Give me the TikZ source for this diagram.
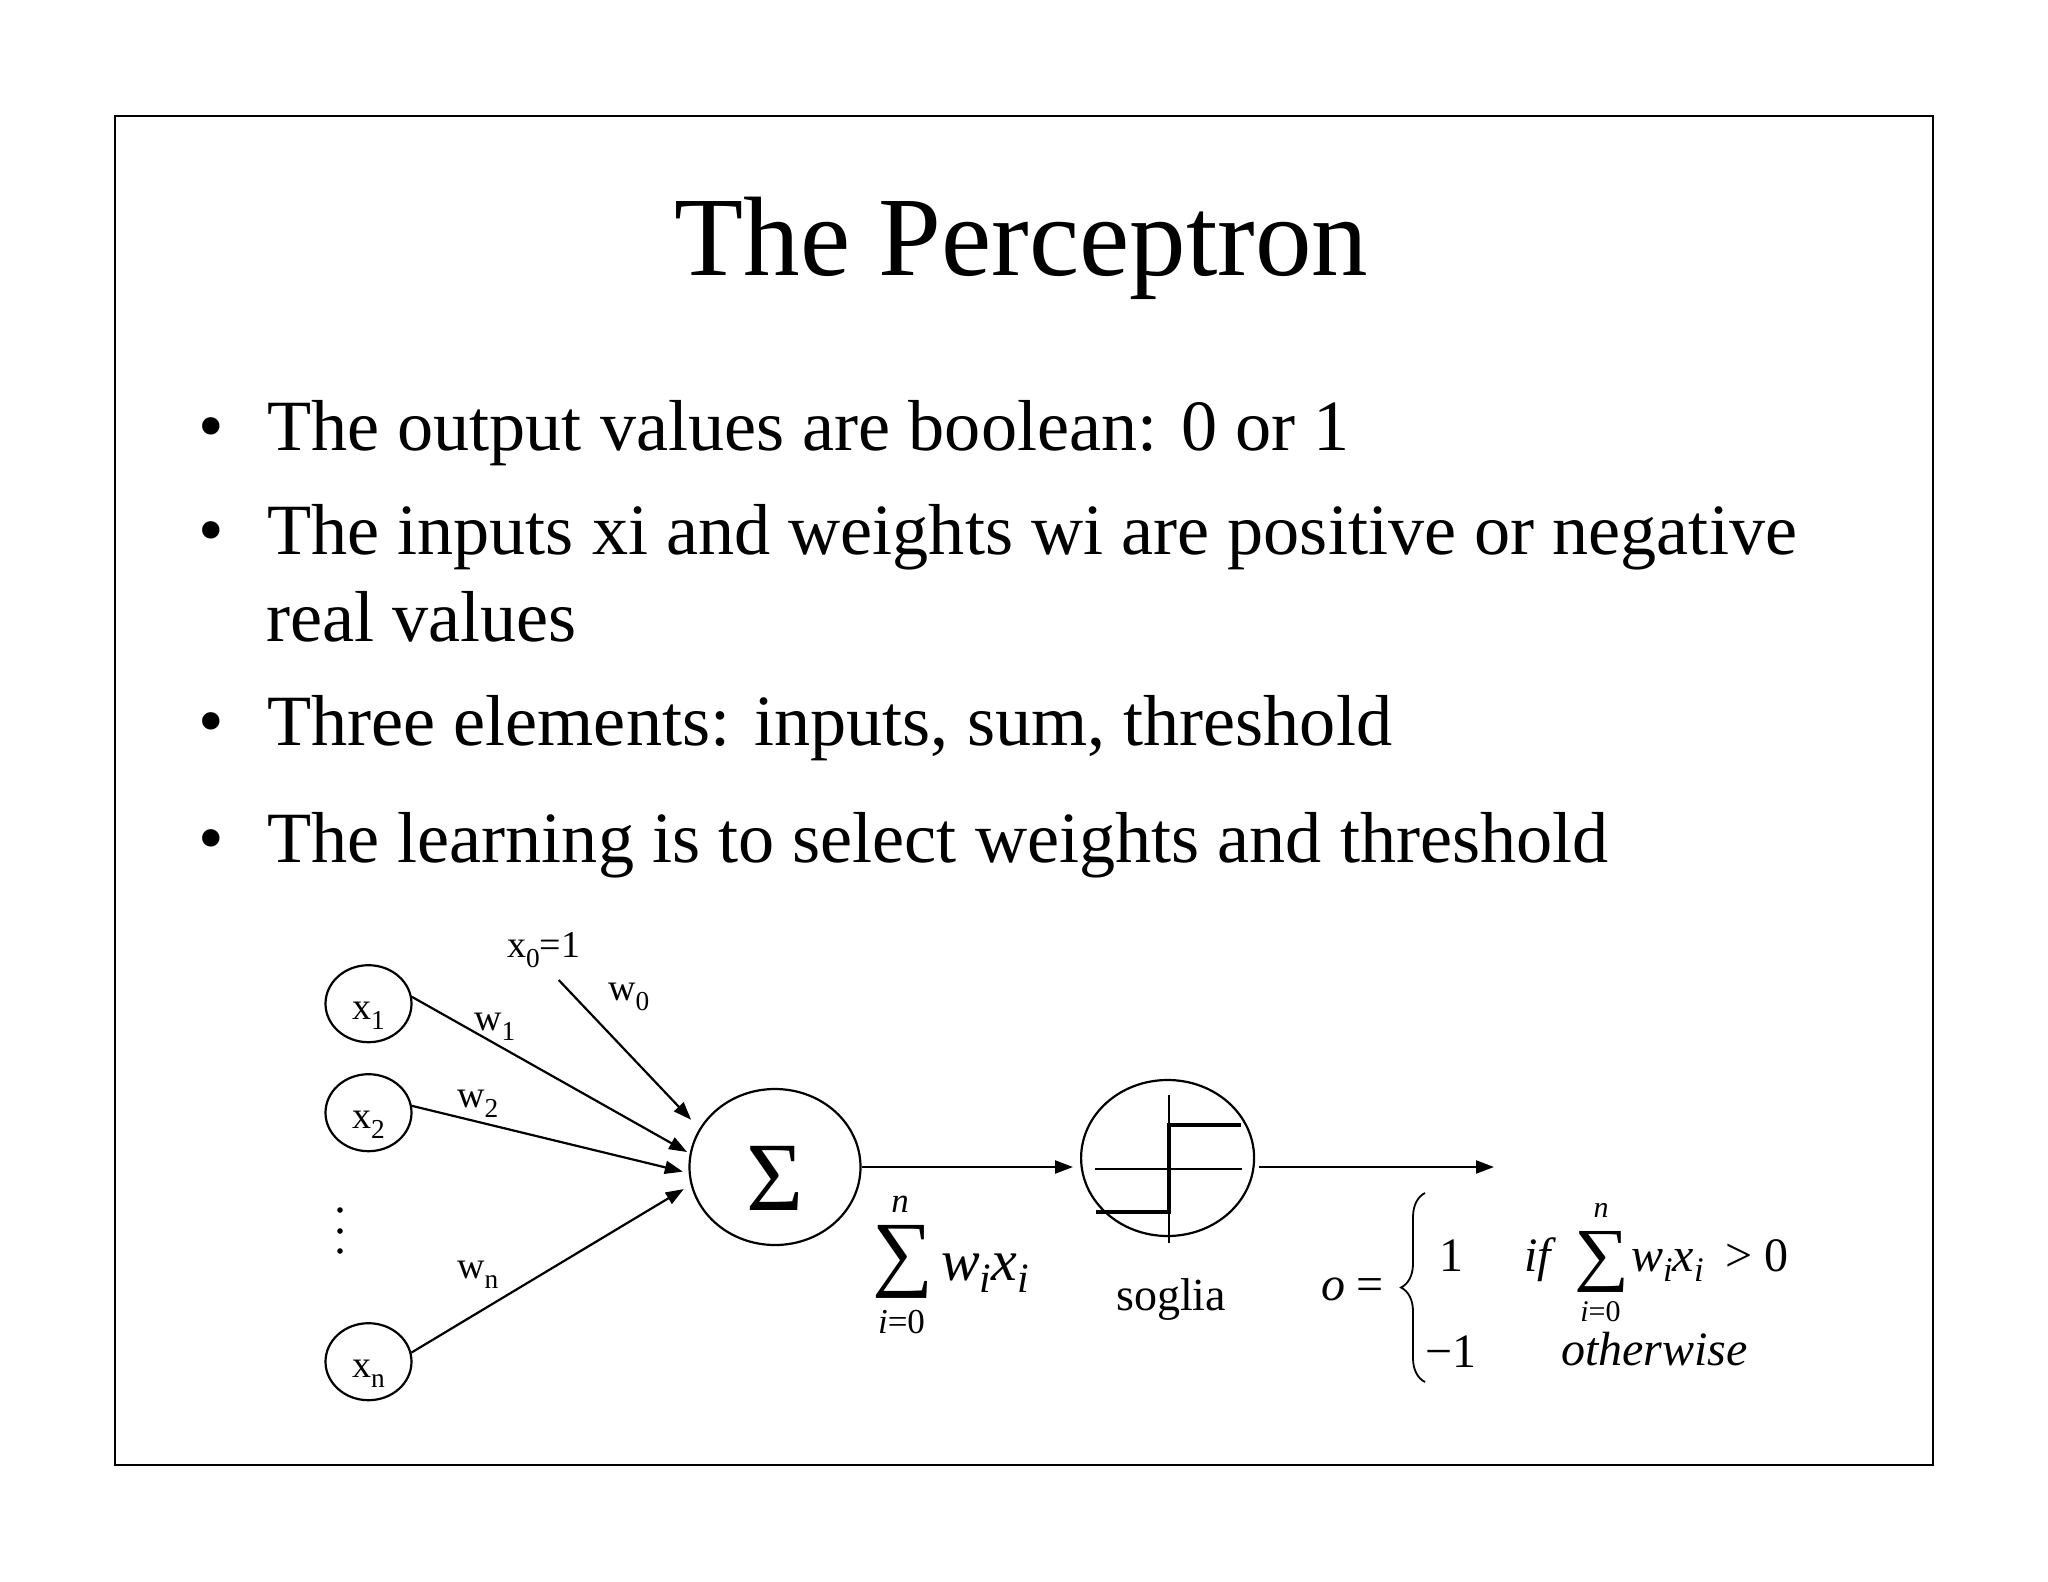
\documentclass[tikz,border=0pt]{standalone}
\usepackage{fontspec}
\setmainfont{Liberation Serif}
\usetikzlibrary{arrows.meta,decorations.pathreplacing,shapes.geometric}
\newcommand\lsub[1]{\raisebox{-0.27em}{\scalebox{0.72}{#1}}}
\newcommand\fsub[1]{\raisebox{-0.22em}{\scalebox{0.72}{#1}}}
\newcommand\fs[1]{\fontsize{#1}{#1}\selectfont}
\begin{document}
\begin{tikzpicture}[x=1pt,y=-1pt,
  inode/.style={draw,ellipse,line width=2.2pt,minimum width=86pt,minimum height=77pt,inner sep=0pt},
  bignode/.style={draw,ellipse,line width=2.2pt,inner sep=0pt},
  arr/.style={line width=2.2pt,-{Triangle[length=18pt,width=13pt]}},
  lbl/.style={font=\fs{38},inner sep=0pt,anchor=base west},
  bul/.style={font=\fs{72.2},inner sep=0pt,anchor=base west},
  dotb/.style={font=\fs{73},inner sep=0pt,anchor=base},
  fa/.style={font=\fs{58},inner sep=0pt},
  fb/.style={font=\fs{48},inner sep=0pt},
  lima/.style={font=\fs{35},inner sep=0pt,anchor=base},
  limb/.style={font=\fs{30},inner sep=0pt,anchor=base}]
\useasboundingbox (0,0) rectangle (2048,1582);
\fill[white] (0,0) rectangle (2048,1582);
\draw[line width=2pt] (115,116) rectangle (1932.5,1465);

% title
\node[font=\fs{113},inner sep=0pt,anchor=base] (title) at (1021.5,275) {The Perceptron};

% bullets
\node[dotb] (b1) at (211,450) {•};
\node[bul] (t1) at (267,450) {The output values are boolean: 0 or 1};
\node[dotb] (b2) at (211,554) {•};
\node[bul] (t2) at (267,554) {The inputs xi and weights wi are positive or negative};
\node[bul] (t2b) at (266,641) {real values};
\node[dotb] (b3) at (211,745) {•};
\node[bul] (t3) at (267,745) {Three elements: inputs, sum, threshold};
\node[dotb] (b4) at (211,862) {•};
\node[bul] (t4) at (267,862) {The learning is to select weights and threshold};

% input nodes
\node[inode] (x1) at (368.5,1003.7) {};
\node[inode] (x2) at (368.5,1112.7) {};
\node[inode] (xn) at (368.5,1361.7) {};
\node[lbl] (lx1) at (352,1019) {x\lsub{1}};
\node[lbl] (lx2) at (352,1128) {x\lsub{2}};
\node[lbl] (lxn) at (352,1377) {x\lsub{n}};
\fill (340,1210) circle (2.8);
\fill (340,1231) circle (2.8);
\fill (340,1251) circle (2.8);

% weight labels
\node[lbl] (lx0) at (507,957) {x\lsub{0}=1};
\node[lbl] (lw0) at (608,1000) {w\lsub{0}};
\node[lbl] (lw1) at (474,1030) {w\lsub{1}};
\node[lbl] (lw2) at (457,1107) {w\lsub{2}};
\node[lbl] (lwn) at (457,1278) {w\lsub{n}};

% sum node
\node[bignode,minimum width=171pt,minimum height=156pt] (sum) at (775,1167) {};
\node[font=\fs{98},inner sep=0pt,anchor=base] (sig) at (775,1210) {Σ};

% threshold node
\node[bignode,minimum width=173pt,minimum height=156pt] (thr) at (1167.6,1158) {};
\draw[line width=1.5pt] (1169,1095) -- (1169,1243);
\draw[line width=1.5pt] (1094.5,1169) -- (1241.8,1169);
\draw[line width=4.5pt] (1096,1212) -- (1169,1212) -- (1169,1125) -- (1241,1125);

% connectors
\coordinate (x0s) at (558.7,980);
\coordinate (oend) at (1494,1167);
\draw[arr,shorten >=12pt] (x0s) -- (sum.153.6);
\draw[arr,shorten >=3pt] (x1.9) -- (sum.171);
\draw[arr,shorten >=6pt] (x2.9) -- (sum.184);
\draw[arr,shorten >=8pt] (xn.12) -- (sum.192);
\draw[arr,shorten >=7pt] (sum.east) -- (sum.east -| thr.west);
\draw[arr,shorten <=4pt] (thr.east |- oend) -- (oend);

% formula under sum arrow
\node[fa] (sum1) at (902.5,1262) {\resizebox*{61pt}{73pt}{∑}};
\node[lima] (n1) at (900,1212) {\textit{n}};
\node[lima] (i1) at (901.5,1333) {\textit{i}=0};
\node[fa,anchor=base west] (wx1) at (941,1280) {\textit{w}\fsub{\textit{i}}\textit{x}\fsub{\textit{i}}};

% soglia
\node[font=\fs{46},inner sep=0pt,anchor=base west] (sog) at (1116,1310) {soglia};

% output formula
\node[fb,anchor=base west] (o) at (1321,1300) {\textit{o}};
\node[fb,anchor=base west] (eq) at (1356,1300) {=};
\draw[decorate,decoration={brace,amplitude=24pt},line width=1.8pt] (1425,1382) -- (1425,1193);
\node[fb,anchor=base] (one) at (1451,1271) {1};
\node[fb,anchor=base] (mone) at (1451,1367) {−1};
\node[fb,anchor=base west] (if) at (1524,1271) {\textit{if}};
\node[fb] (sum2) at (1602,1262) {\resizebox*{55pt}{61pt}{∑}};
\node[limb] (n2) at (1601,1217) {\textit{n}};
\node[limb] (i2) at (1600.5,1321) {\textit{i}=0};
\node[fb,anchor=base west] (wx2) at (1631,1271) {\textit{w}\fsub{\textit{i}}\textit{x}\fsub{\textit{i}}};
\node[fb,anchor=base west] (gt) at (1725,1271) {> 0};
\node[fb,anchor=base west] (oth) at (1561,1365) {\textit{otherwise}};
\end{tikzpicture}
\end{document}
